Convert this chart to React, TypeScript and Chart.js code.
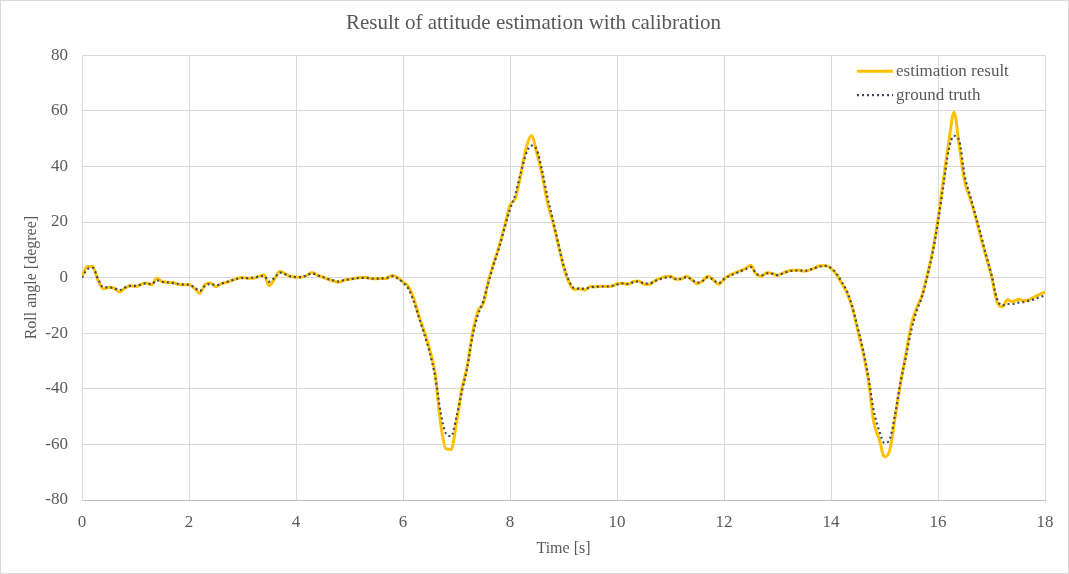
import React, { useEffect, useRef } from "react";
import { Chart, registerables } from "chart.js";

Chart.register(...registerables);

const TITLE = "Result of attitude estimation with calibration";
const X_TITLE = "Time [s]";
const Y_TITLE = "Roll angle [degree]";
const SERIES_NAMES = ["estimation result", "ground truth"];

const timeS = [
  0.0, 0.1, 0.2, 0.3, 0.4, 0.5, 0.6, 0.7, 0.8, 0.9,
  1.0, 1.1, 1.2, 1.3, 1.4, 1.5, 1.6, 1.7, 1.8, 1.9,
  2.0, 2.1, 2.2, 2.3, 2.4, 2.5, 2.6, 2.7, 2.8, 2.9,
  3.0, 3.1, 3.2, 3.3, 3.4, 3.5, 3.6, 3.7, 3.8, 3.9,
  4.0, 4.1, 4.2, 4.3, 4.4, 4.5, 4.6, 4.7, 4.8, 4.9,
  5.0, 5.1, 5.2, 5.3, 5.4, 5.5, 5.6, 5.7, 5.8, 5.9,
  6.0, 6.1, 6.2, 6.3, 6.4, 6.5, 6.6, 6.7, 6.8, 6.9,
  7.0, 7.1, 7.2, 7.3, 7.4, 7.5, 7.6, 7.7, 7.8, 7.9,
  8.0, 8.1, 8.2, 8.3, 8.4, 8.5, 8.6, 8.7, 8.8, 8.9,
  9.0, 9.1, 9.2, 9.3, 9.4, 9.5, 9.6, 9.7, 9.8, 9.9,
  10.0, 10.1, 10.2, 10.3, 10.4, 10.5, 10.6, 10.7, 10.8, 10.9,
  11.0, 11.1, 11.2, 11.3, 11.4, 11.5, 11.6, 11.7, 11.8, 11.9,
  12.0, 12.1, 12.2, 12.3, 12.4, 12.5, 12.6, 12.7, 12.8, 12.9,
  13.0, 13.1, 13.2, 13.3, 13.4, 13.5, 13.6, 13.7, 13.8, 13.9,
  14.0, 14.1, 14.2, 14.3, 14.4, 14.5, 14.6, 14.7, 14.8, 14.9,
  15.0, 15.1, 15.2, 15.3, 15.4, 15.5, 15.6, 15.7, 15.8, 15.9,
  16.0, 16.1, 16.2, 16.3, 16.4, 16.5, 16.6, 16.7, 16.8, 16.9,
  17.0, 17.1, 17.2, 17.3, 17.4, 17.5, 17.6, 17.7, 17.8, 17.9,
  18.0,
];

const estimation = [
  0.5, 4.0, 4.0, -1.0, -4.0, -3.5, -3.8, -5.2, -3.8, -2.9,
  -3.2, -2.5, -1.9, -2.6, -0.2, -1.5, -1.7, -1.8, -2.4, -2.6,
  -2.5, -3.8, -5.6, -2.5, -1.9, -3.3, -2.2, -1.7, -1.0, -0.3,
  0.0, -0.2, -0.2, 0.4, 1.0, -2.9, -0.5, 2.3, 1.3, 0.4,
  0.2, 0.1, 0.8, 1.8, 0.9, 0.2, -0.6, -1.2, -1.7, -0.9,
  -0.6, -0.3, 0.0, 0.0, -0.3, -0.4, -0.3, -0.2, 0.8, 0.0,
  -1.6, -3.2, -7.5, -14.0, -19.5, -26.0, -34.5, -52.0, -61.5, -61.8,
  -52.0, -40.0, -32.0, -20.0, -12.0, -9.3, -1.0, 5.5, 11.5, 18.5,
  26.0, 28.5, 37.0, 46.5, 51.0, 45.0, 37.0, 27.0, 20.0, 12.0,
  4.0, -1.5, -4.3, -4.0, -4.5, -3.2, -3.3, -3.1, -3.2, -3.1,
  -2.2, -2.0, -2.4, -1.5, -1.2, -2.3, -2.5, -1.2, -0.3, 0.3,
  0.5, -0.6, -0.5, 0.5, -0.8, -2.2, -1.2, 0.5, -0.8, -2.4,
  -0.5, 0.8, 1.6, 2.4, 3.2, 4.4, 1.2, 0.5, 1.7, 1.5,
  0.8, 1.6, 2.4, 2.6, 2.6, 2.3, 2.8, 3.5, 4.3, 4.3,
  3.3, 1.2, -2.0, -5.5, -11.0, -19.0, -27.0, -37.0, -52.0, -58.0,
  -64.5, -62.0, -50.0, -38.0, -27.5, -17.0, -11.0, -6.5, 1.0, 9.5,
  21.0, 35.0, 48.5, 59.5, 47.0, 34.5, 28.5, 22.0, 14.5, 7.5,
  0.5, -8.5, -10.5, -8.0, -8.7, -7.8, -8.3, -8.0, -7.0, -6.0,
  -5.2,
];

const groundTruth = [
  0.0, 3.0, 3.5, -0.5, -3.5, -3.5, -3.8, -4.5, -3.6, -3.0,
  -3.0, -2.5, -2.0, -2.4, -1.0, -1.5, -1.7, -2.0, -2.3, -2.5,
  -2.6, -3.5, -4.8, -3.0, -2.2, -2.8, -2.2, -1.6, -1.0, -0.4,
  -0.2, -0.2, 0.0, 0.3, 0.6, -1.5, 0.0, 1.8, 1.2, 0.4,
  0.2, 0.2, 0.8, 1.5, 0.8, 0.2, -0.5, -1.0, -1.4, -0.9,
  -0.6, -0.3, -0.1, -0.1, -0.3, -0.4, -0.3, -0.1, 0.5, -0.3,
  -1.8, -4.0, -8.5, -14.5, -20.5, -27.0, -35.5, -48.0, -56.0, -57.0,
  -50.0, -41.0, -32.5, -21.0, -13.5, -8.5, -1.5, 5.0, 11.0, 18.0,
  24.5, 30.0, 37.5, 44.5, 47.5, 46.0, 38.5, 29.0, 21.0, 12.5,
  4.5, -1.0, -3.8, -4.0, -4.0, -3.5, -3.3, -3.2, -3.2, -3.0,
  -2.5, -2.1, -2.3, -1.7, -1.4, -2.0, -2.2, -1.3, -0.6, 0.0,
  0.2, -0.5, -0.5, 0.2, -0.8, -1.8, -1.2, 0.2, -0.8, -2.0,
  -0.6, 0.6, 1.4, 2.2, 3.0, 3.8, 1.5, 0.8, 1.5, 1.4,
  0.9, 1.5, 2.2, 2.5, 2.6, 2.4, 2.8, 3.4, 4.0, 4.2,
  3.5, 1.5, -1.5, -5.0, -10.5, -18.0, -26.0, -36.0, -48.0, -55.0,
  -59.5, -58.0, -49.0, -37.5, -28.5, -19.0, -12.0, -7.0, 0.5, 9.0,
  20.0, 33.0, 46.0, 51.0, 49.0, 36.5, 29.5, 22.5, 15.5, 8.0,
  1.0, -7.5, -10.0, -9.5, -9.5, -9.0, -8.8, -8.3, -7.8, -7.0,
  -6.5,
];

const X_MIN = 0;
const X_MAX = 18;
const X_STEP = 2;
const Y_MIN = -80;
const Y_MAX = 80;
const Y_STEP = 20;

const FONT = "'Liberation Serif', 'Times New Roman', serif";
const TEXT = "#595959";
const GRID = "#d9d9d9";
const EST_COLOR = "#FFC000";
const GT_COLOR = "#3E4A5E";

const bgPlugin = {
  id: "bgBorder",
  beforeDraw(chart: any) {
    const { ctx, width, height } = chart;
    ctx.save();
    ctx.fillStyle = "#ffffff";
    ctx.fillRect(0, 0, width, height);
    ctx.strokeStyle = "#d9d9d9";
    ctx.lineWidth = 1;
    ctx.strokeRect(0.5, 0.5, width - 1, height - 1);
    ctx.restore();
  },
};

const legendPlugin = {
  id: "customLegend",
  afterDraw(chart: any) {
    const { ctx, chartArea } = chart;
    const x0 = chartArea.right - 188;
    const rows = [
      { y: chartArea.top + 16, color: EST_COLOR, width: 3, dash: [] as number[] },
      { y: chartArea.top + 40, color: GT_COLOR, width: 2.2, dash: [2, 3] },
    ];
    ctx.save();
    rows.forEach((r, i) => {
      ctx.beginPath();
      ctx.setLineDash(r.dash);
      ctx.strokeStyle = r.color;
      ctx.lineWidth = r.width;
      ctx.moveTo(x0, r.y);
      ctx.lineTo(x0 + 36, r.y);
      ctx.stroke();
      ctx.setLineDash([]);
      ctx.fillStyle = TEXT;
      ctx.font = `17px ${FONT}`;
      ctx.textBaseline = "middle";
      ctx.textAlign = "left";
      ctx.fillText(SERIES_NAMES[i], x0 + 39, r.y);
    });
    ctx.restore();
  },
};

export default function App() {
  const canvasRef = useRef<HTMLCanvasElement | null>(null);

  useEffect(() => {
    document.body.style.margin = "0";
    const canvas = canvasRef.current;
    if (!canvas) return;
    Chart.defaults.font.family = FONT;

    const estPoints = timeS.map((t, i) => ({ x: t, y: estimation[i] }));
    const gtPoints = timeS.map((t, i) => ({ x: t, y: groundTruth[i] }));

    const chart = new Chart(canvas, {
      type: "line",
      data: {
        datasets: [
          {
            label: SERIES_NAMES[0],
            data: estPoints,
            borderColor: EST_COLOR,
            borderWidth: 3,
            pointRadius: 0,
            cubicInterpolationMode: "monotone",
            order: 2,
          },
          {
            label: SERIES_NAMES[1],
            data: gtPoints,
            borderColor: GT_COLOR,
            borderWidth: 2.2,
            borderDash: [2, 3],
            pointRadius: 0,
            cubicInterpolationMode: "monotone",
            order: 1,
          },
        ],
      },
      options: {
        animation: false,
        responsive: false,
        maintainAspectRatio: false,
        layout: { padding: { left: 22, right: 24, top: 0, bottom: 14 } },
        plugins: {
          legend: { display: false },
          tooltip: { enabled: false },
          title: {
            display: true,
            text: TITLE,
            color: TEXT,
            font: { family: FONT, size: 21, weight: "normal" },
            padding: { top: 11, bottom: 19 },
          },
        },
        scales: {
          x: {
            type: "linear",
            min: X_MIN,
            max: X_MAX,
            ticks: {
              stepSize: X_STEP,
              color: TEXT,
              font: { family: FONT, size: 17 },
              padding: 12,
              maxRotation: 0,
            },
            grid: { color: GRID, drawTicks: false },
            border: { color: "#bfbfbf" },
            title: {
              display: true,
              text: X_TITLE,
              color: TEXT,
              font: { family: FONT, size: 16 },
              padding: { top: 4, bottom: 2 },
            },
            afterFit(scale: any) {
              scale.height = 60;
            },
          },
          y: {
            min: Y_MIN,
            max: Y_MAX,
            ticks: {
              stepSize: Y_STEP,
              color: TEXT,
              font: { family: FONT, size: 17 },
              padding: 14,
            },
            grid: { color: GRID, drawTicks: false },
            border: { color: GRID },
            title: {
              display: true,
              text: Y_TITLE,
              color: TEXT,
              font: { family: FONT, size: 16 },
              padding: { top: 0, bottom: 4 },
            },
            afterFit(scale: any) {
              scale.width = 60;
            },
          },
        },
      },
      plugins: [bgPlugin, legendPlugin],
    });

    return () => {
      chart.destroy();
    };
  }, []);

  return (
    <div style={{ width: 1069, height: 574 }}>
      <canvas ref={canvasRef} width={1069} height={574} style={{ display: "block" }} />
    </div>
  );
}
